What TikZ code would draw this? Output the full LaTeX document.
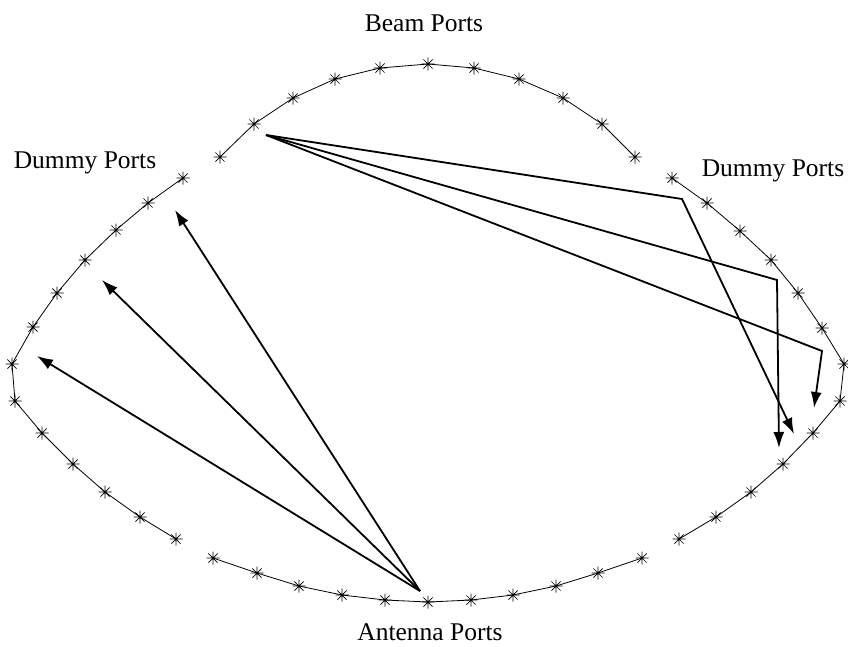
\documentclass[tikz,border=0pt]{standalone}
\usepackage{fontspec}
\setmainfont{Liberation Serif}
\usepackage{tikz}
\usetikzlibrary{positioning, arrows.meta}

\begin{document}
\begin{tikzpicture}[
                x=1pt, y=-1pt,
                port/.style={rectangle, inner sep=0pt, minimum size=13pt,
                    path picture={\draw[line width=0.7pt]
                        (path picture bounding box.north) -- (path picture bounding box.south)
                        (path picture bounding box.west) -- (path picture bounding box.east)
                        ([shift={(-4.6,-4.6)}]path picture bounding box.center) -- ([shift={(4.6,4.6)}]path picture bounding box.center)
                        ([shift={(-4.6,4.6)}]path picture bounding box.center) -- ([shift={(4.6,-4.6)}]path picture bounding box.center);}},
                rim/.style={line width=0.8pt},
                ray/.style={line width=1.8pt, -{Latex[length=16pt, width=11pt]}},
                portlabel/.style={anchor=base, inner sep=0pt, font=\fontsize{25.5}{30}\selectfont}
            ]
            \useasboundingbox (0,0) rectangle (848,646);

            % Ports
            \foreach \p [count=\i] in {(220,157),(254,124),(293,98),(335,79),(380,68),(428,64),(474,68),(519,79),(563,98),(602,124),(635,157)}
                \node[port] (b\i) at \p {};
            \foreach \p [count=\i] in {(183,178),(148,203),(116,230),(85,260),(57,293),(33,327),(12,364),(15,401),(42,433),(73,464),(105,492),(140,517),(176,539)}
                \node[port] (dl\i) at \p {};
            \foreach \p [count=\i] in {(213,558),(257,573),(299,586),(342,595),(385,600),(428,602),(471,600),(513,595),(556,586),(598,573),(642,558)}
                \node[port] (a\i) at \p {};
            \foreach \p [count=\i] in {(672,178),(707,203),(740,231),(771,260),(798,293),(822,328),(844,364),(840,401),(813,433),(783,464),(751,492),(716,517),(679,539)}
                \node[port] (dr\i) at \p {};

            % Labels
            \node[portlabel] (beam) at (424,31) {Beam Ports};
            \node[portlabel] (dummyl) at (85,168) {Dummy Ports};
            \node[portlabel] (dummyr) at (773,176) {Dummy Ports};
            \node[portlabel] (antenna) at (430,640) {Antenna Ports};

            % Linsenkontur
            \draw[rim] (b1.center) \foreach \i in {2,...,11} { -- (b\i.center) };
            \draw[rim] (dl1.center) \foreach \i in {2,...,13} { -- (dl\i.center) };
            \draw[rim] (a1.center) \foreach \i in {2,...,11} { -- (a\i.center) };
            \draw[rim] (dr1.center) \foreach \i in {2,...,13} { -- (dr\i.center) };

            % Strahlen
            \coordinate (src) at (266,135);
            \coordinate (k1) at (682,199);
            \coordinate (k2) at (777,280);
            \coordinate (k3) at (822,351);
            \coordinate (t1) at (794,434);
            \coordinate (t2) at (779,448);
            \coordinate (t3) at (814,408);

            \coordinate (ant) at (420,591);
            \coordinate (t4) at (175,210);
            \coordinate (t5) at (102,280);
            \coordinate (t6) at (37,356);

            \draw[ray] (src) -- (k1) -- (t1);
            \draw[ray] (src) -- (k2) -- (t2);
            \draw[ray] (src) -- (k3) -- (t3);

            \draw[ray] (ant) -- (t4);
            \draw[ray] (ant) -- (t5);
            \draw[ray] (ant) -- (t6);

        \end{tikzpicture}
\end{document}
